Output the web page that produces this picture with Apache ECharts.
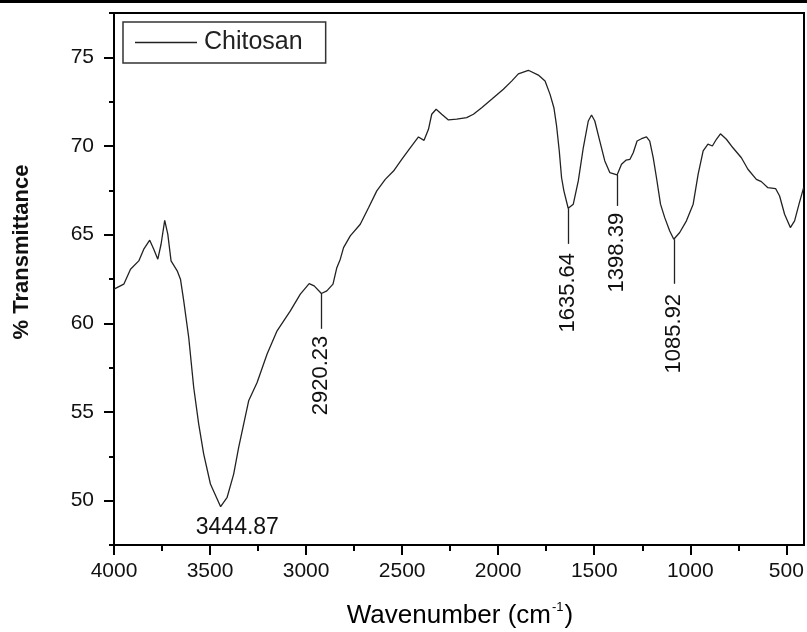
<!DOCTYPE html>
<html>
<head>
<meta charset="utf-8">
<title>Chitosan FTIR</title>
<script src="https://cdn.jsdelivr.net/npm/echarts@6/dist/echarts.min.js"></script>
<style>
  html, body { margin: 0; padding: 0; background: #fff; }
  #chart { width: 807px; height: 632px; }
</style>
</head>
<body>
<div id="chart"></div>
<script>
// spectrum (wavenumber cm-1, % transmittance)
const wavenumber = [
  4000, 3949, 3914, 3871, 3845, 3814, 3793, 3772, 3755, 3736,
  3720, 3703, 3671, 3654, 3637, 3611, 3585, 3559, 3533, 3498,
  3463, 3444.87, 3411, 3377, 3351, 3325, 3299, 3255, 3203, 3151,
  3082, 3030, 2984, 2958, 2920.23, 2892, 2860, 2840, 2822, 2805,
  2770, 2718, 2675, 2632, 2588, 2545, 2502, 2458, 2415, 2386,
  2363, 2346, 2323, 2294, 2259, 2216, 2164, 2129, 2086, 2034,
  1973, 1930, 1895, 1843, 1791, 1756, 1730, 1710, 1696, 1682,
  1670, 1658, 1635.64, 1609, 1583, 1557, 1531, 1514, 1497, 1471,
  1445, 1419, 1381, 1358, 1335, 1314, 1297, 1277, 1254, 1228,
  1211, 1193, 1176, 1155, 1133, 1107, 1085.92, 1055, 1020, 985,
  959, 933, 908, 885, 864, 843, 812, 778, 734, 700,
  656, 630, 596, 556, 535, 509, 479, 457, 434, 410
]
const transmittance = [
  61.93, 62.21, 63.05, 63.52, 64.18, 64.69, 64.18, 63.62, 64.46, 65.81,
  65.03, 63.52, 62.96, 62.49, 61.27, 59.20, 56.38, 54.32, 52.63, 50.94,
  50.10, 49.66, 50.19, 51.50, 53.00, 54.32, 55.63, 56.66, 58.27, 59.58,
  60.70, 61.65, 62.24, 62.11, 61.68, 61.83, 62.21, 63.14, 63.62, 64.27,
  64.93, 65.59, 66.52, 67.47, 68.12, 68.59, 69.25, 69.90, 70.51, 70.32,
  70.94, 71.79, 72.07, 71.79, 71.47, 71.51, 71.60, 71.79, 72.16, 72.63,
  73.20, 73.66, 74.07, 74.27, 74.00, 73.66, 72.91, 72.16, 71.13, 69.72,
  68.21, 67.47, 66.49, 66.72, 68.03, 69.90, 71.41, 71.75, 71.41, 70.28,
  69.16, 68.50, 68.37, 68.97, 69.20, 69.25, 69.62, 70.28, 70.41, 70.51,
  70.28, 69.34, 68.21, 66.72, 65.96, 65.21, 64.74, 65.12, 65.78, 66.72,
  68.41, 69.72, 70.10, 70.00, 70.38, 70.69, 70.38, 69.90, 69.34, 68.69,
  68.12, 67.99, 67.65, 67.60, 67.18, 66.15, 65.40, 65.78, 66.72, 67.65
]

// tick values
const xMajorTicks = [4000, 3500, 3000, 2500, 2000, 1500, 1000, 500]
const xMinorTicks = [3750, 3250, 2750, 2250, 1750, 1250, 750]
const yMajorTicks = [50, 55, 60, 65, 70, 75]
const yMinorTicks = [47.5, 52.5, 57.5, 62.5, 67.5, 72.5, 77.5]

// peak annotations: line x, line from / to, label top, text
const peakX = [2920.23, 1635.64, 1381, 1085.92]
const peakLineFrom = [61.68, 66.49, 68.37, 64.74]
const peakLineTo = [59.69, 64.48, 66.62, 62.23]
const peakLabelTop = [59.3, 63.97, 66.23, 61.66]
const peakText = ['2920.23', '1635.64', '1398.39', '1085.92']
// the big OH band label sits under the minimum
const mainPeak = { x: 3358, y: 48.48, text: '3444.87' }

const spectrum = wavenumber.map((w, i) => [w, transmittance[i]])

const peakLines = peakX.map((x, i) => [
  { coord: [x, peakLineFrom[i]] },
  { coord: [x, peakLineTo[i]] }
])
const peakLabels = peakX.map((x, i) => ({ value: [x, peakLabelTop[i]], name: peakText[i] }))
peakLabels.push({
  value: [mainPeak.x, mainPeak.y],
  name: mainPeak.text,
  label: { rotate: 0, align: 'center', verticalAlign: 'middle', fontSize: 23 }
})

const font = 'Liberation Sans, Arial, sans-serif'

const option = {
  backgroundColor: '#fff',
  animation: false,
  grid: {
    left: 114,
    right: 3,
    top: 13,
    bottom: 87,
    show: true,
    borderColor: '#000',
    borderWidth: 2
  },
  legend: {
    left: 123,
    top: 22,
    padding: [8, 23, 8, 12],
    borderColor: '#333',
    borderWidth: 1.5,
    itemWidth: 62,
    itemHeight: 1.4,
    itemStyle: { color: '#222' },
    textStyle: { fontFamily: font, fontSize: 25, color: '#222', padding: [0, 0, 0, 2] },
    data: [{ name: 'Chitosan', icon: 'rect' }]
  },
  xAxis: [
    {
      type: 'value',
      inverse: true,
      min: 408,
      max: 4000,
      axisLine: { onZero: false, lineStyle: { color: '#000', width: 2 } },
      axisTick: { customValues: xMajorTicks, length: 10, lineStyle: { color: '#000', width: 2 } },
      axisLabel: {
        customValues: xMajorTicks,
        formatter: v => String(v),
        margin: 16,
        fontFamily: font,
        fontSize: 21,
        color: '#111'
      },
      splitLine: { show: false }
    },
    {
      type: 'value',
      inverse: true,
      min: 408,
      max: 4000,
      position: 'bottom',
      axisLine: { show: false },
      axisTick: { customValues: xMinorTicks, length: 6, lineStyle: { color: '#000', width: 2 } },
      axisLabel: { show: false },
      splitLine: { show: false }
    }
  ],
  yAxis: [
    {
      type: 'value',
      min: 47.5,
      max: 77.5,
      axisLine: { show: true, onZero: false, lineStyle: { color: '#000', width: 2 } },
      axisTick: { show: true, customValues: yMajorTicks, length: 10, lineStyle: { color: '#000', width: 2 } },
      axisLabel: { customValues: yMajorTicks, margin: 20, fontFamily: font, fontSize: 21, color: '#111' },
      splitLine: { show: false }
    },
    {
      type: 'value',
      min: 47.5,
      max: 77.5,
      position: 'left',
      axisLine: { show: false },
      axisTick: { show: true, customValues: yMinorTicks, length: 5, lineStyle: { color: '#000', width: 2 } },
      axisLabel: { show: false },
      splitLine: { show: false }
    }
  ],
  graphic: [
    // frame line at the very top of the picture
    { type: 'rect', left: 0, top: 0, shape: { width: 807, height: 3 }, style: { fill: '#000' } },
    {
      type: 'text',
      x: 22,
      y: 252,
      rotation: Math.PI / 2,
      style: {
        text: '% Transmittance',
        font: 'bold 22px ' + font,
        fill: '#111',
        align: 'center',
        verticalAlign: 'middle'
      }
    },
    {
      type: 'text',
      x: 460,
      y: 616,
      style: {
        text: '{a|Wavenumber (cm}{s|-1}{a|)}',
        align: 'center',
        verticalAlign: 'middle',
        rich: {
          a: { fontFamily: font, fontSize: 26, color: '#111', lineHeight: 30 },
          s: { fontFamily: font, fontSize: 13, color: '#111', lineHeight: 30, verticalAlign: 'top', padding: [0, 1, 14, 1] }
        }
      }
    }
  ],
  series: [
    {
      name: 'Chitosan',
      type: 'line',
      data: spectrum,
      symbol: 'none',
      smooth: false,
      lineStyle: { color: '#222', width: 1.3 },
      itemStyle: { color: '#222' },
      markLine: {
        silent: true,
        symbol: 'none',
        label: { show: false },
        lineStyle: { color: '#222', width: 1.3, type: 'solid' },
        data: peakLines
      }
    },
    {
      name: 'peaks',
      type: 'scatter',
      data: peakLabels,
      symbolSize: 1,
      itemStyle: { color: 'rgba(0,0,0,0)' },
      silent: true,
      label: {
        show: true,
        position: 'inside',
        formatter: p => p.name,
        rotate: 90,
        align: 'right',
        verticalAlign: 'middle',
        fontFamily: font,
        fontSize: 22,
        color: '#111',
        opacity: 1,
        textBorderWidth: 0
      }
    }
  ]
}

const myChart = echarts.init(document.getElementById('chart'))
myChart.setOption(option)
</script>
</body>
</html>
